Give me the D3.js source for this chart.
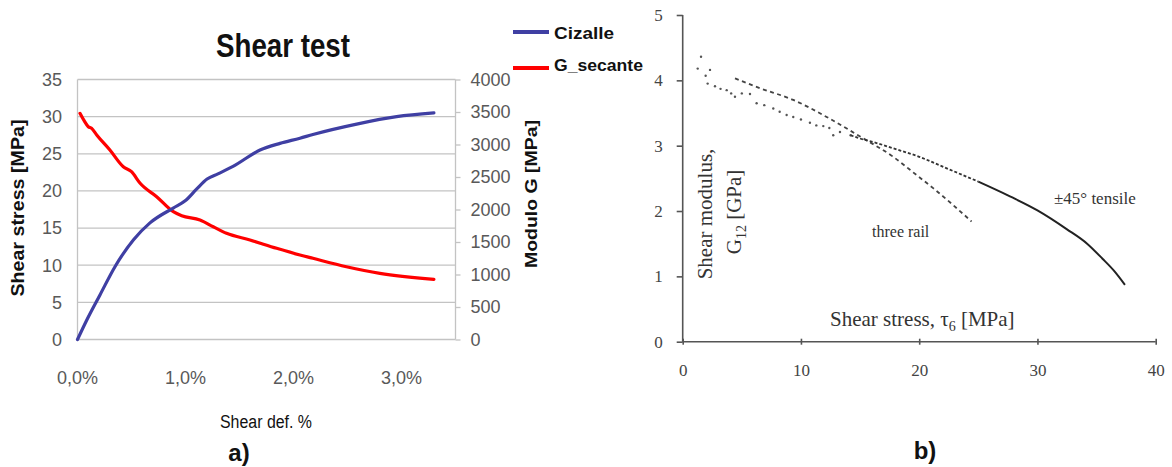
<!DOCTYPE html>
<html>
<head>
<meta charset="utf-8">
<script src="https://cdn.jsdelivr.net/npm/d3@7"></script>
<style>
  html, body { margin: 0; padding: 0; background: #fff; }
  svg { display: block; }
</style>
</head>
<body>
<svg id="chart" width="1172" height="467"></svg>
<script>
// ---- Panel a) Shear test: strain (%) vs shear stress and secant modulus ----
const cizalleStrain = [0, 0.085, 0.208, 0.347, 0.517, 0.671, 0.886, 1.0, 1.1, 1.2, 1.3, 1.44, 1.69, 1.875, 2.06, 2.18, 2.585, 2.955, 3.30];
const cizalleStress = [0, 2.6, 6.0, 9.8, 13.4, 15.7, 17.7, 18.7, 20.2, 21.6, 22.3, 23.3, 25.5, 26.4, 27.1, 27.6, 29.0, 30.0, 30.5];

const gStrain = [0.023, 0.06, 0.1, 0.13, 0.178, 0.30, 0.424, 0.50, 0.58, 0.733, 0.887, 0.965, 1.134, 1.257, 1.38, 1.597, 1.844, 2.06, 2.18, 2.49, 2.80, 3.30];
const gSecante = [3480, 3370, 3274, 3249, 3146, 2915, 2658, 2582, 2403, 2197, 1966, 1905, 1838, 1735, 1634, 1531, 1403, 1300, 1249, 1120, 1018, 926];

const stressTicks = [0, 5, 10, 15, 20, 25, 30, 35];
const modulusTicks = [0, 500, 1000, 1500, 2000, 2500, 3000, 3500, 4000];
const strainTicks = [0, 1, 2, 3];
const strainTickLabels = ["0,0%", "1,0%", "2,0%", "3,0%"];

// ---- Panel b) Shear modulus vs shear stress ----
const tensileDotsStress = [1.27, 1.55, 1.94, 2.11, 2.31, 2.73, 3.2, 3.72, 4.1, 4.42, 5.0, 5.69, 6.25, 6.9, 7.66, 8.2, 8.79, 9.35, 10.0, 10.76, 11.3, 11.89, 12.4, 12.73, 13.3, 14.2];
const tensileDotsModulus = [4.18, 4.36, 4.07, 3.95, 4.16, 3.91, 3.87, 3.85, 3.80, 3.75, 3.80, 3.79, 3.65, 3.62, 3.57, 3.52, 3.47, 3.44, 3.40, 3.35, 3.31, 3.30, 3.27, 3.16, 3.21, 3.16];
const tensileStress = [14.2, 15.0, 16.4, 17.8, 20.0, 22.5, 25.0, 27.5, 30.0, 32.5, 34.2, 35.5, 36.5, 37.4];
const tensileModulus = [3.16, 3.11, 3.04, 2.96, 2.83, 2.64, 2.45, 2.24, 2.01, 1.72, 1.50, 1.27, 1.08, 0.87];
const threeRailStress = [4.42, 6.53, 9.35, 12.17, 15.0, 17.8, 19.78, 21.18, 24.43];
const threeRailModulus = [4.03, 3.88, 3.70, 3.44, 3.14, 2.83, 2.55, 2.35, 1.84];

const bXTicks = [0, 10, 20, 30, 40];
const bYTicks = [0, 1, 2, 3, 4, 5];

const svg = d3.select("#chart");
const sansNarrow = "'Liberation Sans Narrow', 'Arial Narrow', 'Liberation Sans', Arial, sans-serif";
const sans = "'Liberation Sans', Arial, sans-serif";
const serif = "'Liberation Serif', 'Times New Roman', serif";

// ===================== Panel a =====================
const a = svg.append("g");
const x = d3.scaleLinear().domain([0, 3.5]).range([77.5, 455.5]);
const yL = d3.scaleLinear().domain([0, 35]).range([339.5, 79.5]);
const yR = d3.scaleLinear().domain([0, 4000]).range([339.5, 79.5]);

// horizontal gridlines
a.append("g").selectAll("line").data(stressTicks).join("line")
  .attr("x1", x(0)).attr("x2", x(3.5))
  .attr("y1", d => yL(d)).attr("y2", d => yL(d))
  .attr("stroke", "#c3c3c3").attr("stroke-width", 1.3);

// axis frame lines
a.append("line").attr("x1", x(0)).attr("x2", x(0)).attr("y1", yL(0)).attr("y2", yL(35))
  .attr("stroke", "#c3c3c3").attr("stroke-width", 1.3);
a.append("line").attr("x1", x(3.5)).attr("x2", x(3.5)).attr("y1", yL(0)).attr("y2", yL(35))
  .attr("stroke", "#c3c3c3").attr("stroke-width", 1.3);

// left axis labels
a.append("g").selectAll("text").data(stressTicks).join("text")
  .attr("x", 62).attr("y", d => yL(d)).attr("dy", "0.35em")
  .attr("text-anchor", "end")
  .attr("font-family", sansNarrow).attr("font-size", 18).attr("fill", "#595959")
  .text(d => d);

// right axis ticks and labels
const rightAxis = d3.axisRight(yR).tickValues(modulusTicks).tickFormat(d3.format("d")).tickSize(5).tickPadding(10);
const ra = a.append("g").attr("transform", `translate(${x(3.5)},0)`).call(rightAxis);
ra.select(".domain").remove();
ra.selectAll(".tick line").attr("stroke", "#c3c3c3").attr("stroke-width", 1.3);
ra.selectAll(".tick text").attr("font-family", sansNarrow).attr("font-size", 18).attr("fill", "#595959");

// bottom labels
a.append("g").selectAll("text").data(strainTicks).join("text")
  .attr("x", d => x(d)).attr("y", 384)
  .attr("text-anchor", "middle")
  .attr("font-family", sansNarrow).attr("font-size", 18).attr("fill", "#595959")
  .text((d, i) => strainTickLabels[i]);

// series lines
const lineL = d3.line().x(d => x(d[0])).y(d => yL(d[1])).curve(d3.curveMonotoneX);
const lineR = d3.line().x(d => x(d[0])).y(d => yR(d[1])).curve(d3.curveMonotoneX);

a.append("path").datum(gStrain.map((s, i) => [s, gSecante[i]]))
  .attr("d", lineR).attr("fill", "none").attr("stroke", "#ff0000")
  .attr("stroke-width", 3.2).attr("stroke-linejoin", "round").attr("stroke-linecap", "round");
a.append("path").datum(cizalleStrain.map((s, i) => [s, cizalleStress[i]]))
  .attr("d", lineL).attr("fill", "none").attr("stroke", "#3f3fa3")
  .attr("stroke-width", 3.2).attr("stroke-linejoin", "round").attr("stroke-linecap", "round");

// title
a.append("text").attr("x", 283).attr("y", 57).attr("text-anchor", "middle")
  .attr("font-family", sansNarrow).attr("font-size", 34).attr("font-weight", "bold")
  .attr("fill", "#111").attr("textLength", 134).attr("lengthAdjust", "spacingAndGlyphs")
  .text("Shear test");

// axis titles
a.append("text").attr("transform", "translate(24,208) rotate(-90)")
  .attr("text-anchor", "middle")
  .attr("font-family", sansNarrow).attr("font-size", 18).attr("font-weight", "bold")
  .attr("fill", "#111").attr("textLength", 177).attr("lengthAdjust", "spacingAndGlyphs")
  .text("Shear stress [MPa]");
a.append("text").attr("transform", "translate(537,194) rotate(-90)")
  .attr("text-anchor", "middle")
  .attr("font-family", sansNarrow).attr("font-size", 17).attr("font-weight", "bold")
  .attr("fill", "#111").attr("textLength", 148).attr("lengthAdjust", "spacingAndGlyphs")
  .text("Modulo G [MPa]");
a.append("text").attr("x", 266).attr("y", 428).attr("text-anchor", "middle")
  .attr("font-family", sansNarrow).attr("font-size", 18)
  .attr("fill", "#111").attr("textLength", 92).attr("lengthAdjust", "spacingAndGlyphs")
  .text("Shear def. %");

// legend
const legend = [
  { name: "Cizalle", color: "#3f3fa3", y: 32 },
  { name: "G_secante", color: "#ff0000", y: 68 }
];
const lg = a.append("g").selectAll("g").data(legend).join("g");
lg.append("line").attr("x1", 513).attr("x2", 549).attr("y1", d => d.y).attr("y2", d => d.y)
  .attr("stroke", d => d.color).attr("stroke-width", 4);
lg.append("text").attr("x", 554).attr("y", (d, i) => i === 0 ? 39 : 71)
  .attr("font-family", sans).attr("font-size", 17).attr("font-weight", "bold").attr("fill", "#111")
  .attr("textLength", (d, i) => i === 0 ? 60 : 89).attr("lengthAdjust", "spacingAndGlyphs")
  .text(d => d.name);

// panel tag
a.append("text").attr("x", 239).attr("y", 461).attr("text-anchor", "middle")
  .attr("font-family", sans).attr("font-size", 24).attr("font-weight", "bold").attr("fill", "#111")
  .text("a)");

// ===================== Panel b =====================
const b = svg.append("g");
const bx = d3.scaleLinear().domain([0, 40]).range([682.7, 1155.7]);
const by = d3.scaleLinear().domain([0, 5]).range([341.7, 15]);

const axB = d3.axisBottom(bx).tickValues(bXTicks).tickFormat(d3.format("d")).tickSize(5).tickPadding(17);
const gxB = b.append("g").attr("transform", `translate(0,${by(0)})`).call(axB);
gxB.select(".domain").attr("stroke", "#555").attr("stroke-width", 1.6).attr("d", `M${bx(0)},0H${bx(40)}`);
gxB.selectAll(".tick line").attr("stroke", "#555").attr("stroke-width", 1.6).attr("y1", -3).attr("y2", 3);
gxB.selectAll(".tick text").attr("font-family", serif).attr("font-size", 17).attr("fill", "#444");

const ayB = d3.axisLeft(by).tickValues(bYTicks).tickFormat(d3.format("d")).tickSize(6).tickPadding(14);
const gyB = b.append("g").attr("transform", `translate(${bx(0)},0)`).call(ayB);
gyB.select(".domain").attr("stroke", "#555").attr("stroke-width", 1.6).attr("d", `M0,${by(0)}V${by(5)}`);
gyB.selectAll(".tick line").attr("stroke", "#555").attr("stroke-width", 1.6);
gyB.selectAll(".tick text").attr("font-family", serif).attr("font-size", 17).attr("fill", "#444");

// three rail series (dashed)
const lineB = d3.line().x(d => bx(d[0])).y(d => by(d[1])).curve(d3.curveMonotoneX);
b.append("path").datum(threeRailStress.map((s, i) => [s, threeRailModulus[i]]))
  .attr("d", lineB).attr("fill", "none").attr("stroke", "#444")
  .attr("stroke-width", 1.8).attr("stroke-dasharray", "4,3.5");

// ±45° tensile series: scattered readings at low stress, then a dense trace
b.append("g").selectAll("circle").data(tensileDotsStress.map((s, i) => [s, tensileDotsModulus[i]]))
  .join("circle").attr("cx", d => bx(d[0])).attr("cy", d => by(d[1])).attr("r", 1.2)
  .attr("fill", "#555");
const tensilePts = tensileStress.map((s, i) => [s, tensileModulus[i]]);
b.append("path").datum(tensilePts.filter(d => d[0] <= 25))
  .attr("d", lineB).attr("fill", "none").attr("stroke", "#333")
  .attr("stroke-width", 1.8).attr("stroke-dasharray", "3,2");
b.append("path").datum(tensilePts.filter(d => d[0] >= 25))
  .attr("d", lineB).attr("fill", "none").attr("stroke", "#222")
  .attr("stroke-width", 2);

// annotations
b.append("text").attr("x", 872).attr("y", 237)
  .attr("font-family", serif).attr("font-size", 16).attr("fill", "#333")
  .text("three rail");
b.append("text").attr("x", 1054).attr("y", 204)
  .attr("font-family", serif).attr("font-size", 17).attr("fill", "#333")
  .text("±45° tensile");

const xt = b.append("text").attr("x", 830).attr("y", 326)
  .attr("font-family", serif).attr("font-size", 21).attr("fill", "#333");
xt.append("tspan").text("Shear stress,  τ");
xt.append("tspan").attr("font-size", 14).attr("dy", 5).text("6");
xt.append("tspan").attr("dy", -5).text(" [MPa]");

b.append("text").attr("transform", "translate(712,214) rotate(-90)").attr("text-anchor", "middle")
  .attr("font-family", serif).attr("font-size", 21).attr("fill", "#333")
  .text("Shear modulus,");
const gt = b.append("text").attr("transform", "translate(741,212) rotate(-90)").attr("text-anchor", "middle")
  .attr("font-family", serif).attr("font-size", 21).attr("fill", "#333");
gt.append("tspan").text("G");
gt.append("tspan").attr("font-size", 14).attr("dy", 5).text("12");
gt.append("tspan").attr("dy", -5).text(" [GPa]");

b.append("text").attr("x", 925).attr("y", 459).attr("text-anchor", "middle")
  .attr("font-family", sans).attr("font-size", 24).attr("font-weight", "bold").attr("fill", "#111")
  .text("b)");
</script>
</body>
</html>
